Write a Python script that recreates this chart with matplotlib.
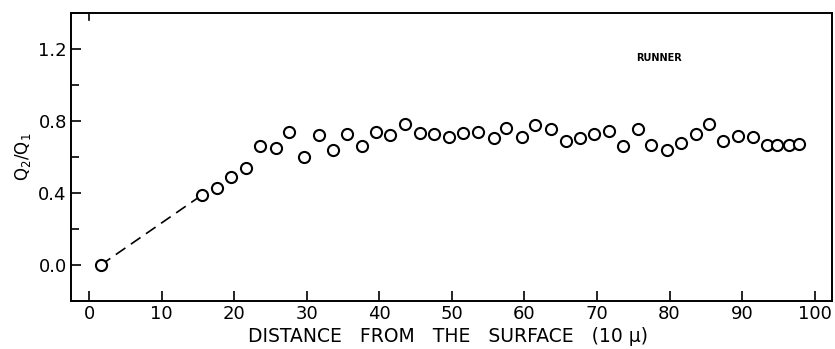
import matplotlib
matplotlib.use('Agg')
from matplotlib import pyplot as plt
from matplotlib.ticker import MultipleLocator

# depth below surface (units of 10 micron) and charge ratio Q2/Q1
depth = [1.6, 15.6, 17.6, 19.6, 21.6, 23.6, 25.7, 27.6, 29.6, 31.7,
         33.6, 35.6, 37.6, 39.6, 41.5, 43.5, 45.6, 47.5, 49.6, 51.6,
         53.6, 55.8, 57.5, 59.6, 61.5, 63.6, 65.7, 67.6, 69.6, 71.6,
         73.6, 75.6, 77.5, 79.6, 81.6, 83.6, 85.5, 87.4, 89.4, 91.5,
         93.4, 94.8, 96.4, 97.9]
ratio = [0.00, 0.39, 0.43, 0.49, 0.54, 0.66, 0.65, 0.74, 0.60, 0.72,
         0.64, 0.73, 0.66, 0.74, 0.72, 0.785, 0.735, 0.725, 0.71, 0.735,
         0.74, 0.705, 0.76, 0.71, 0.775, 0.755, 0.69, 0.705, 0.725, 0.745,
         0.66, 0.755, 0.665, 0.64, 0.68, 0.73, 0.785, 0.69, 0.715, 0.71,
         0.665, 0.665, 0.665, 0.67]

x_ticks = [0, 10, 20, 30, 40, 50, 60, 70, 80, 90, 100]
y_ticks = [0.0, 0.4, 0.8, 1.2]
y_labels = ['0.0', '0.4', '0.8', '1.2']

plt.rcParams['font.family'] = ['DejaVu Sans']

fig = plt.figure(figsize=(8.35, 3.49), dpi=100)
ax = fig.add_axes([0.085, 0.1375, 0.9115, 0.8253])

# dashed guide between the surface point and the first measured point below it
ax.plot(depth[:2], ratio[:2], color='black', lw=1.2, dashes=(7, 4))
ax.plot(depth, ratio, linestyle='none', marker='o', ms=8, mfc='white',
        mec='black', mew=1.5, zorder=3)

ax.set_xlim(-2.5, 102.4)
ax.set_ylim(-0.2, 1.4)
ax.set_xticks(x_ticks)
ax.set_yticks(y_ticks)
ax.set_yticklabels(y_labels)
ax.yaxis.set_minor_locator(MultipleLocator(0.2))

ax.tick_params(axis='both', which='both', direction='in', width=1.2,
               labelsize=13, color='black')
ax.tick_params(axis='x', which='major', length=7, pad=3)
ax.tick_params(axis='y', which='major', length=7, pad=3)
ax.tick_params(axis='y', which='minor', length=6)

# single tick mark on the upper edge at x = 0
ax.plot([0, 0], [1.4, 1.36], color='black', lw=1.2, clip_on=False)

for side in ax.spines.values():
    side.set_linewidth(1.4)

fig.text(0.536, 0.036, 'DISTANCE   FROM   THE   SURFACE   (10 μ)',
         fontsize=13.5, ha='center', va='center')
ax.set_ylabel(r'Q$_2$/Q$_1$', fontsize=12, labelpad=4)

ax.text(78.5, 1.15, 'RUNNER', fontsize=7, fontweight='bold', ha='center',
        va='center')

fig.savefig('out.png', dpi=100)
